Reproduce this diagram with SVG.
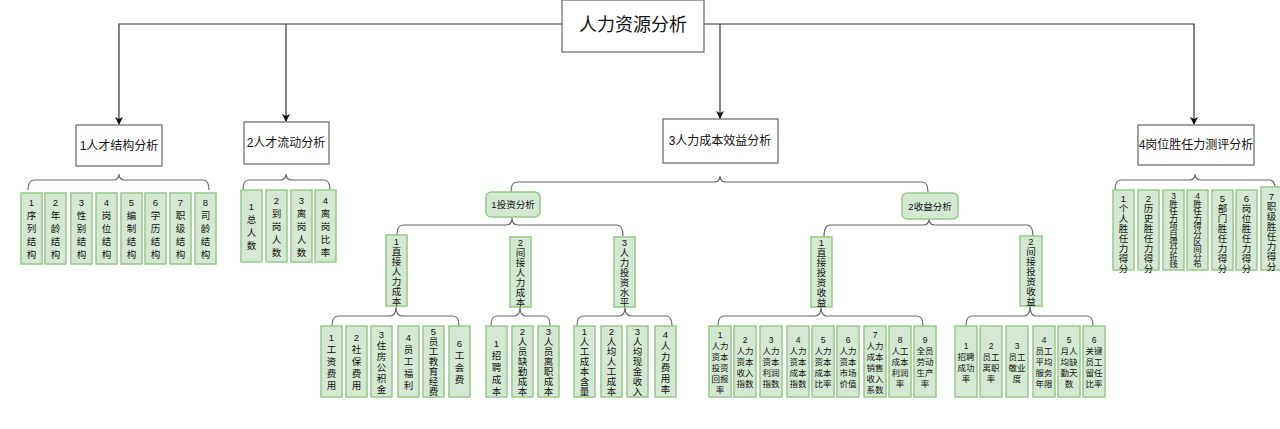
<svg xmlns="http://www.w3.org/2000/svg" width="1280" height="429" viewBox="0 0 1280 429">
<style>
.bx{fill:#fff;stroke:#666;stroke-width:1.2}
.lf{fill:#d5e8d4;stroke:#97c98a;stroke-width:1.5}
.gn{fill:#d5e8d4;stroke:#97c98a;stroke-width:1.5}
.ln{fill:none;stroke:#333;stroke-width:1.2}
.br{fill:none;stroke:#666;stroke-width:1.2}
text{font-family:"Liberation Sans","Noto Sans CJK SC",sans-serif;fill:#111;text-anchor:middle}
.t{font-size:9.5px}
.s{font-size:8.5px}
.h{font-size:12px}
</style>
<defs>
<marker id="ar" markerWidth="8" markerHeight="8" refX="7" refY="4" orient="auto" markerUnits="userSpaceOnUse"><path d="M0,0 L8,4 L0,8 L2,4 Z" fill="#111"/></marker>
</defs>
<g id="connectors">
<path class="ln" d="M562,24 H119 V124" marker-end="url(#ar)"/>
<path class="ln" d="M286,24 V121" marker-end="url(#ar)"/>
<path class="ln" d="M704,24 H1194 V124" marker-end="url(#ar)"/>
<path class="ln" d="M720,24 V118" marker-end="url(#ar)"/>
<path class="br" d="M28,190 Q28,180 34,180 H113 Q119,180 119,174 Q119,180 125,180 H203 Q209,180 209,190"/>
<path class="br" d="M243,190 Q243,180 249,180 H280 Q286,180 286,174 Q286,180 292,180 H324 Q330,180 330,190"/>
<path class="br" d="M511,192 Q511,182 517,182 H714 Q720,182 720,176 Q720,182 726,182 H922 Q928,182 928,192"/>
<path class="br" d="M397,235 Q397,225 403,225 H506 Q512,225 512,218 Q512,225 518,225 H617 Q623,225 623,236"/>
<path class="br" d="M824,237 Q824,225 830,225 H923 Q929,225 929,219 Q929,225 935,225 H1027 Q1033,225 1033,236"/>
<path class="br" d="M332,326 Q332,316 338,316 H390 Q396,316 396,307 Q396,316 402,316 H453 Q459,316 459,326"/>
<path class="br" d="M491,326 Q491,316 497,316 H514 Q520,316 520,307 Q520,316 526,316 H544 Q550,316 550,326"/>
<path class="br" d="M577,326 Q577,316 583,316 H619 Q625,316 625,307 Q625,316 631,316 H666 Q672,316 672,326"/>
<path class="br" d="M718,326 Q718,316 724,316 H815 Q821,316 821,307 Q821,316 827,316 H917 Q923,316 923,326"/>
<path class="br" d="M966,326 Q966,316 972,316 H1024 Q1030,316 1030,306 Q1030,316 1036,316 H1087 Q1093,316 1093,326"/>
<path class="br" d="M1115,190 Q1115,180 1121,180 H1189 Q1195,180 1195,174 Q1195,180 1201,180 H1269 Q1275,180 1275,188"/>
</g>
<g id="root"><rect class="bx" x="562" y="0" width="142" height="52"/><text x="633" y="31" font-size="18">人力资源分析</text></g>
<g id="n1"><rect class="bx" x="76" y="125" width="86" height="41"/><text class="h" x="119" y="150">1人才结构分析</text></g>
<g id="n2"><rect class="bx" x="244" y="122" width="85" height="42"/><text class="h" x="286" y="147">2人才流动分析</text></g>
<g id="n3"><rect class="bx" x="663" y="119" width="115" height="44"/><text class="h" x="720" y="145">3人力成本效益分析</text></g>
<g id="n4"><rect class="bx" x="1138" y="125" width="116" height="40"/><text class="h" x="1196" y="149">4岗位胜任力测评分析</text></g>
<g id="inv"><rect class="gn" x="486" y="192" width="54" height="25" rx="5"/><text class="t" x="513" y="208">1投资分析</text></g>
<g id="inc"><rect class="gn" x="902" y="193" width="56" height="26" rx="5"/><text class="t" x="930" y="210">2收益分析</text></g>

<g id="g1">
<rect class="lf" x="21" y="193" width="21" height="71"/><text class="t" x="31.5" y="206"><tspan x="31.5">1</tspan><tspan x="31.5" dy="13">序</tspan><tspan x="31.5" dy="13">列</tspan><tspan x="31.5" dy="13">结</tspan><tspan x="31.5" dy="13">构</tspan></text>
<rect class="lf" x="45" y="193" width="21" height="71"/><text class="t" x="55.5" y="206"><tspan x="55.5">2</tspan><tspan x="55.5" dy="13">年</tspan><tspan x="55.5" dy="13">龄</tspan><tspan x="55.5" dy="13">结</tspan><tspan x="55.5" dy="13">构</tspan></text>
<rect class="lf" x="71" y="193" width="21" height="71"/><text class="t" x="81.5" y="206"><tspan x="81.5">3</tspan><tspan x="81.5" dy="13">性</tspan><tspan x="81.5" dy="13">别</tspan><tspan x="81.5" dy="13">结</tspan><tspan x="81.5" dy="13">构</tspan></text>
<rect class="lf" x="96" y="193" width="21" height="71"/><text class="t" x="106.5" y="206"><tspan x="106.5">4</tspan><tspan x="106.5" dy="13">岗</tspan><tspan x="106.5" dy="13">位</tspan><tspan x="106.5" dy="13">结</tspan><tspan x="106.5" dy="13">构</tspan></text>
<rect class="lf" x="121" y="193" width="21" height="71"/><text class="t" x="131.5" y="206"><tspan x="131.5">5</tspan><tspan x="131.5" dy="13">编</tspan><tspan x="131.5" dy="13">制</tspan><tspan x="131.5" dy="13">结</tspan><tspan x="131.5" dy="13">构</tspan></text>
<rect class="lf" x="145" y="193" width="21" height="71"/><text class="t" x="155.5" y="206"><tspan x="155.5">6</tspan><tspan x="155.5" dy="13">学</tspan><tspan x="155.5" dy="13">历</tspan><tspan x="155.5" dy="13">结</tspan><tspan x="155.5" dy="13">构</tspan></text>
<rect class="lf" x="170" y="193" width="21" height="71"/><text class="t" x="180.5" y="206"><tspan x="180.5">7</tspan><tspan x="180.5" dy="13">职</tspan><tspan x="180.5" dy="13">级</tspan><tspan x="180.5" dy="13">结</tspan><tspan x="180.5" dy="13">构</tspan></text>
<rect class="lf" x="195" y="193" width="21" height="71"/><text class="t" x="205.5" y="206"><tspan x="205.5">8</tspan><tspan x="205.5" dy="13">司</tspan><tspan x="205.5" dy="13">龄</tspan><tspan x="205.5" dy="13">结</tspan><tspan x="205.5" dy="13">构</tspan></text>
</g>
<g id="g2">
<rect class="lf" x="241" y="190" width="21" height="72"/><text class="t" x="251.5" y="210"><tspan x="251.5">1</tspan><tspan x="251.5" dy="13">总</tspan><tspan x="251.5" dy="13">人</tspan><tspan x="251.5" dy="13">数</tspan></text>
<rect class="lf" x="266" y="190" width="21" height="72"/><text class="t" x="276.5" y="203.5"><tspan x="276.5">2</tspan><tspan x="276.5" dy="13">到</tspan><tspan x="276.5" dy="13">岗</tspan><tspan x="276.5" dy="13">人</tspan><tspan x="276.5" dy="13">数</tspan></text>
<rect class="lf" x="291" y="190" width="21" height="72"/><text class="t" x="301.5" y="203.5"><tspan x="301.5">3</tspan><tspan x="301.5" dy="13">离</tspan><tspan x="301.5" dy="13">岗</tspan><tspan x="301.5" dy="13">人</tspan><tspan x="301.5" dy="13">数</tspan></text>
<rect class="lf" x="315" y="190" width="21" height="72"/><text class="t" x="325.5" y="203.5"><tspan x="325.5">4</tspan><tspan x="325.5" dy="13">离</tspan><tspan x="325.5" dy="13">岗</tspan><tspan x="325.5" dy="13">比</tspan><tspan x="325.5" dy="13">率</tspan></text>
</g>
<g id="l3">
<rect class="lf" x="386" y="235" width="21" height="71"/><text class="t" x="396.5" y="244.5"><tspan x="396.5">1</tspan><tspan x="396.5" dy="10">直</tspan><tspan x="396.5" dy="10">接</tspan><tspan x="396.5" dy="10">人</tspan><tspan x="396.5" dy="10">力</tspan><tspan x="396.5" dy="10">成</tspan><tspan x="396.5" dy="10">本</tspan></text>
<rect class="lf" x="510" y="237" width="21" height="70"/><text class="t" x="520.5" y="246"><tspan x="520.5">2</tspan><tspan x="520.5" dy="10">间</tspan><tspan x="520.5" dy="10">接</tspan><tspan x="520.5" dy="10">人</tspan><tspan x="520.5" dy="10">力</tspan><tspan x="520.5" dy="10">成</tspan><tspan x="520.5" dy="10">本</tspan></text>
<rect class="lf" x="614" y="237" width="21" height="70"/><text class="t" x="624.5" y="246"><tspan x="624.5">3</tspan><tspan x="624.5" dy="10">人</tspan><tspan x="624.5" dy="10">力</tspan><tspan x="624.5" dy="10">投</tspan><tspan x="624.5" dy="10">资</tspan><tspan x="624.5" dy="10">水</tspan><tspan x="624.5" dy="10">平</tspan></text>
<rect class="lf" x="811" y="237" width="21" height="70"/><text class="t" x="821.5" y="246"><tspan x="821.5">1</tspan><tspan x="821.5" dy="10">直</tspan><tspan x="821.5" dy="10">接</tspan><tspan x="821.5" dy="10">投</tspan><tspan x="821.5" dy="10">资</tspan><tspan x="821.5" dy="10">收</tspan><tspan x="821.5" dy="10">益</tspan></text>
<rect class="lf" x="1020" y="236" width="22" height="70"/><text class="t" x="1031" y="245"><tspan x="1031">2</tspan><tspan x="1031" dy="10">间</tspan><tspan x="1031" dy="10">接</tspan><tspan x="1031" dy="10">投</tspan><tspan x="1031" dy="10">资</tspan><tspan x="1031" dy="10">收</tspan><tspan x="1031" dy="10">益</tspan></text>
</g>
<g id="ga">
<rect class="lf" x="321" y="326" width="21" height="71"/><text class="t" x="331.5" y="341"><tspan x="331.5">1</tspan><tspan x="331.5" dy="12">工</tspan><tspan x="331.5" dy="12">资</tspan><tspan x="331.5" dy="12">费</tspan><tspan x="331.5" dy="12">用</tspan></text>
<rect class="lf" x="346" y="326" width="21" height="71"/><text class="t" x="356.5" y="341"><tspan x="356.5">2</tspan><tspan x="356.5" dy="12">社</tspan><tspan x="356.5" dy="12">保</tspan><tspan x="356.5" dy="12">费</tspan><tspan x="356.5" dy="12">用</tspan></text>
<rect class="lf" x="371" y="326" width="21" height="71"/><text class="t" x="381.5" y="337.5"><tspan x="381.5">3</tspan><tspan x="381.5" dy="11">住</tspan><tspan x="381.5" dy="11">房</tspan><tspan x="381.5" dy="11">公</tspan><tspan x="381.5" dy="11">积</tspan><tspan x="381.5" dy="11">金</tspan></text>
<rect class="lf" x="398" y="326" width="21" height="71"/><text class="t" x="408.5" y="341"><tspan x="408.5">4</tspan><tspan x="408.5" dy="12">员</tspan><tspan x="408.5" dy="12">工</tspan><tspan x="408.5" dy="12">福</tspan><tspan x="408.5" dy="12">利</tspan></text>
<rect class="lf" x="423" y="326" width="21" height="71"/><text class="t" x="433.5" y="335"><tspan x="433.5">5</tspan><tspan x="433.5" dy="10">员</tspan><tspan x="433.5" dy="10">工</tspan><tspan x="433.5" dy="10">教</tspan><tspan x="433.5" dy="10">育</tspan><tspan x="433.5" dy="10">经</tspan><tspan x="433.5" dy="10">费</tspan></text>
<rect class="lf" x="449" y="326" width="21" height="71"/><text class="t" x="459.5" y="347"><tspan x="459.5">6</tspan><tspan x="459.5" dy="12">工</tspan><tspan x="459.5" dy="12">会</tspan><tspan x="459.5" dy="12">费</tspan></text>
</g>
<g id="gb">
<rect class="lf" x="486" y="326" width="21" height="71"/><text class="t" x="496.5" y="347"><tspan x="496.5">1</tspan><tspan x="496.5" dy="12">招</tspan><tspan x="496.5" dy="12">聘</tspan><tspan x="496.5" dy="12">成</tspan><tspan x="496.5" dy="12">本</tspan></text>
<rect class="lf" x="512" y="326" width="21" height="71"/><text class="t" x="522.5" y="335"><tspan x="522.5">2</tspan><tspan x="522.5" dy="10">人</tspan><tspan x="522.5" dy="10">员</tspan><tspan x="522.5" dy="10">缺</tspan><tspan x="522.5" dy="10">勤</tspan><tspan x="522.5" dy="10">成</tspan><tspan x="522.5" dy="10">本</tspan></text>
<rect class="lf" x="538" y="326" width="21" height="71"/><text class="t" x="548.5" y="335"><tspan x="548.5">3</tspan><tspan x="548.5" dy="10">人</tspan><tspan x="548.5" dy="10">员</tspan><tspan x="548.5" dy="10">离</tspan><tspan x="548.5" dy="10">职</tspan><tspan x="548.5" dy="10">成</tspan><tspan x="548.5" dy="10">本</tspan></text>
</g>
<g id="gc">
<rect class="lf" x="574" y="326" width="21" height="71"/><text class="t" x="584.5" y="335"><tspan x="584.5">1</tspan><tspan x="584.5" dy="10">人</tspan><tspan x="584.5" dy="10">工</tspan><tspan x="584.5" dy="10">成</tspan><tspan x="584.5" dy="10">本</tspan><tspan x="584.5" dy="10">含</tspan><tspan x="584.5" dy="10">量</tspan></text>
<rect class="lf" x="601" y="326" width="21" height="71"/><text class="t" x="611.5" y="335"><tspan x="611.5">2</tspan><tspan x="611.5" dy="10">人</tspan><tspan x="611.5" dy="10">均</tspan><tspan x="611.5" dy="10">人</tspan><tspan x="611.5" dy="10">工</tspan><tspan x="611.5" dy="10">成</tspan><tspan x="611.5" dy="10">本</tspan></text>
<rect class="lf" x="627" y="326" width="21" height="71"/><text class="t" x="637.5" y="335"><tspan x="637.5">3</tspan><tspan x="637.5" dy="10">人</tspan><tspan x="637.5" dy="10">均</tspan><tspan x="637.5" dy="10">现</tspan><tspan x="637.5" dy="10">金</tspan><tspan x="637.5" dy="10">收</tspan><tspan x="637.5" dy="10">入</tspan></text>
<rect class="lf" x="655" y="326" width="21" height="71"/><text class="t" x="665.5" y="337.5"><tspan x="665.5">4</tspan><tspan x="665.5" dy="11">人</tspan><tspan x="665.5" dy="11">力</tspan><tspan x="665.5" dy="11">费</tspan><tspan x="665.5" dy="11">用</tspan><tspan x="665.5" dy="11">率</tspan></text>
</g>
<g id="gd">
<rect class="lf" x="709" y="326" width="22" height="71"/><text class="s" x="720" y="337.5"><tspan x="720">1</tspan><tspan x="720" dy="11">人力</tspan><tspan x="720" dy="11">资本</tspan><tspan x="720" dy="11">投资</tspan><tspan x="720" dy="11">回报</tspan><tspan x="720" dy="11">率</tspan></text>
<rect class="lf" x="734" y="326" width="22" height="71"/><text class="s" x="745" y="343"><tspan x="745">2</tspan><tspan x="745" dy="11">人力</tspan><tspan x="745" dy="11">资本</tspan><tspan x="745" dy="11">收入</tspan><tspan x="745" dy="11">指数</tspan></text>
<rect class="lf" x="760" y="326" width="22" height="71"/><text class="s" x="771" y="343"><tspan x="771">3</tspan><tspan x="771" dy="11">人力</tspan><tspan x="771" dy="11">资本</tspan><tspan x="771" dy="11">利润</tspan><tspan x="771" dy="11">指数</tspan></text>
<rect class="lf" x="787" y="326" width="22" height="71"/><text class="s" x="798" y="343"><tspan x="798">4</tspan><tspan x="798" dy="11">人力</tspan><tspan x="798" dy="11">资本</tspan><tspan x="798" dy="11">成本</tspan><tspan x="798" dy="11">指数</tspan></text>
<rect class="lf" x="812" y="326" width="22" height="71"/><text class="s" x="823" y="343"><tspan x="823">5</tspan><tspan x="823" dy="11">人力</tspan><tspan x="823" dy="11">资本</tspan><tspan x="823" dy="11">成本</tspan><tspan x="823" dy="11">比率</tspan></text>
<rect class="lf" x="837" y="326" width="22" height="71"/><text class="s" x="848" y="343"><tspan x="848">6</tspan><tspan x="848" dy="11">人力</tspan><tspan x="848" dy="11">资本</tspan><tspan x="848" dy="11">市场</tspan><tspan x="848" dy="11">价值</tspan></text>
<rect class="lf" x="864" y="326" width="22" height="71"/><text class="s" x="875" y="337.5"><tspan x="875">7</tspan><tspan x="875" dy="11">人力</tspan><tspan x="875" dy="11">成本</tspan><tspan x="875" dy="11">销售</tspan><tspan x="875" dy="11">收入</tspan><tspan x="875" dy="11">系数</tspan></text>
<rect class="lf" x="889" y="326" width="22" height="71"/><text class="s" x="900" y="343"><tspan x="900">8</tspan><tspan x="900" dy="11">人工</tspan><tspan x="900" dy="11">成本</tspan><tspan x="900" dy="11">利润</tspan><tspan x="900" dy="11">率</tspan></text>
<rect class="lf" x="914" y="326" width="22" height="71"/><text class="s" x="925" y="343"><tspan x="925">9</tspan><tspan x="925" dy="11">全员</tspan><tspan x="925" dy="11">劳动</tspan><tspan x="925" dy="11">生产</tspan><tspan x="925" dy="11">率</tspan></text>
</g>
<g id="ge">
<rect class="lf" x="955" y="326" width="22" height="71"/><text class="s" x="966" y="348.5"><tspan x="966">1</tspan><tspan x="966" dy="11">招聘</tspan><tspan x="966" dy="11">成功</tspan><tspan x="966" dy="11">率</tspan></text>
<rect class="lf" x="980" y="326" width="22" height="71"/><text class="s" x="991" y="348.5"><tspan x="991">2</tspan><tspan x="991" dy="11">员工</tspan><tspan x="991" dy="11">离职</tspan><tspan x="991" dy="11">率</tspan></text>
<rect class="lf" x="1006" y="326" width="22" height="71"/><text class="s" x="1017" y="348.5"><tspan x="1017">3</tspan><tspan x="1017" dy="11">员工</tspan><tspan x="1017" dy="11">敬业</tspan><tspan x="1017" dy="11">度</tspan></text>
<rect class="lf" x="1033" y="326" width="22" height="71"/><text class="s" x="1044" y="343"><tspan x="1044">4</tspan><tspan x="1044" dy="11">员工</tspan><tspan x="1044" dy="11">平均</tspan><tspan x="1044" dy="11">服务</tspan><tspan x="1044" dy="11">年限</tspan></text>
<rect class="lf" x="1058" y="326" width="22" height="71"/><text class="s" x="1069" y="343"><tspan x="1069">5</tspan><tspan x="1069" dy="11">月人</tspan><tspan x="1069" dy="11">均缺</tspan><tspan x="1069" dy="11">勤天</tspan><tspan x="1069" dy="11">数</tspan></text>
<rect class="lf" x="1083" y="326" width="22" height="71"/><text class="s" x="1094" y="343"><tspan x="1094">6</tspan><tspan x="1094" dy="11">关键</tspan><tspan x="1094" dy="11">员工</tspan><tspan x="1094" dy="11">留任</tspan><tspan x="1094" dy="11">比率</tspan></text>
</g>
<g id="g4">
<rect class="lf" x="1113" y="190" width="21" height="80"/><text class="t" x="1123.5" y="202"><tspan x="1123.5">1</tspan><tspan x="1123.5" dy="10">个</tspan><tspan x="1123.5" dy="10">人</tspan><tspan x="1123.5" dy="10">胜</tspan><tspan x="1123.5" dy="10">任</tspan><tspan x="1123.5" dy="10">力</tspan><tspan x="1123.5" dy="10">得</tspan><tspan x="1123.5" dy="10">分</tspan></text>
<rect class="lf" x="1138" y="190" width="21" height="80"/><text class="t" x="1148.5" y="202"><tspan x="1148.5">2</tspan><tspan x="1148.5" dy="10">历</tspan><tspan x="1148.5" dy="10">史</tspan><tspan x="1148.5" dy="10">胜</tspan><tspan x="1148.5" dy="10">任</tspan><tspan x="1148.5" dy="10">力</tspan><tspan x="1148.5" dy="10">得</tspan><tspan x="1148.5" dy="10">分</tspan></text>
<rect class="lf" x="1163" y="190" width="21" height="80"/><text class="s" x="1173.5" y="199"><tspan x="1173.5">3</tspan><tspan x="1173.5" dy="7.6">胜</tspan><tspan x="1173.5" dy="7.6">任</tspan><tspan x="1173.5" dy="7.6">力</tspan><tspan x="1173.5" dy="7.6">项</tspan><tspan x="1173.5" dy="7.6">目</tspan><tspan x="1173.5" dy="7.6">得</tspan><tspan x="1173.5" dy="7.6">分</tspan><tspan x="1173.5" dy="7.6">折</tspan><tspan x="1173.5" dy="7.6">线</tspan></text>
<rect class="lf" x="1187" y="190" width="21" height="80"/><text class="s" x="1197.5" y="199"><tspan x="1197.5">4</tspan><tspan x="1197.5" dy="7.6">胜</tspan><tspan x="1197.5" dy="7.6">任</tspan><tspan x="1197.5" dy="7.6">力</tspan><tspan x="1197.5" dy="7.6">得</tspan><tspan x="1197.5" dy="7.6">分</tspan><tspan x="1197.5" dy="7.6">区</tspan><tspan x="1197.5" dy="7.6">间</tspan><tspan x="1197.5" dy="7.6">分</tspan><tspan x="1197.5" dy="7.6">布</tspan></text>
<rect class="lf" x="1212" y="190" width="21" height="80"/><text class="t" x="1222.5" y="202"><tspan x="1222.5">5</tspan><tspan x="1222.5" dy="10">部</tspan><tspan x="1222.5" dy="10">门</tspan><tspan x="1222.5" dy="10">胜</tspan><tspan x="1222.5" dy="10">任</tspan><tspan x="1222.5" dy="10">力</tspan><tspan x="1222.5" dy="10">得</tspan><tspan x="1222.5" dy="10">分</tspan></text>
<rect class="lf" x="1236" y="190" width="21" height="80"/><text class="t" x="1246.5" y="202"><tspan x="1246.5">6</tspan><tspan x="1246.5" dy="10">岗</tspan><tspan x="1246.5" dy="10">位</tspan><tspan x="1246.5" dy="10">胜</tspan><tspan x="1246.5" dy="10">任</tspan><tspan x="1246.5" dy="10">力</tspan><tspan x="1246.5" dy="10">得</tspan><tspan x="1246.5" dy="10">分</tspan></text>
<rect class="lf" x="1261" y="187" width="21" height="83"/><text class="t" x="1271.5" y="200"><tspan x="1271.5">7</tspan><tspan x="1271.5" dy="10">职</tspan><tspan x="1271.5" dy="10">级</tspan><tspan x="1271.5" dy="10">胜</tspan><tspan x="1271.5" dy="10">任</tspan><tspan x="1271.5" dy="10">力</tspan><tspan x="1271.5" dy="10">得</tspan><tspan x="1271.5" dy="10">分</tspan></text>
</g>
</svg>
